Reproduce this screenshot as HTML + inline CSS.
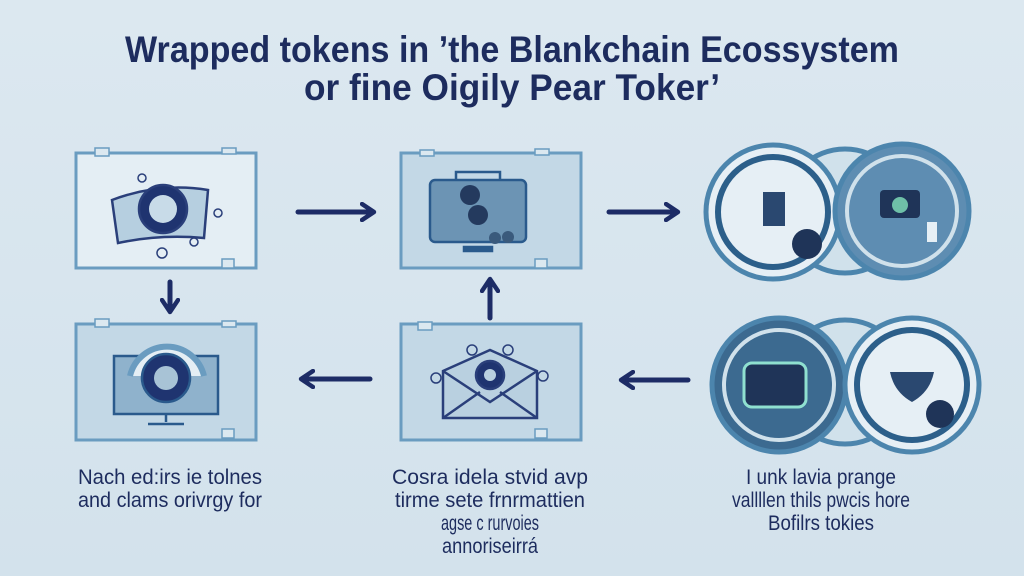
<!DOCTYPE html>
<html><head><meta charset="utf-8"><style>
html,body{margin:0;padding:0;background:#d7e5ef;}
svg{display:block}
text{font-family:"Liberation Sans",sans-serif;fill:#1d2c5e}
</style></head><body>
<svg width="1024" height="576" viewBox="0 0 1024 576" xmlns="http://www.w3.org/2000/svg">
<defs>
<linearGradient id="bg" x1="0" y1="0" x2="0" y2="1"><stop offset="0" stop-color="#dce8f0"/><stop offset="1" stop-color="#d3e2ec"/></linearGradient>
<marker id="ah" viewBox="0 0 10 10" refX="6" refY="5" markerWidth="4" markerHeight="4" orient="auto"><path d="M1 1 L7 5 L1 9" fill="none" stroke="#1d2c66" stroke-width="2.2" stroke-linecap="round" stroke-linejoin="round"/></marker>
</defs>
<rect width="1024" height="576" fill="url(#bg)"/>
<text x="512" y="62" font-size="37" font-weight="bold" text-anchor="middle" textLength="774" lengthAdjust="spacingAndGlyphs">Wrapped tokens in ’the Blankchain Ecossystem</text>
<text x="512" y="100" font-size="37" font-weight="bold" text-anchor="middle" textLength="416" lengthAdjust="spacingAndGlyphs">or fine Oigily Pear Toker’</text>

<g stroke="#6a9cc0" stroke-width="3" fill="#e4eef4">
<rect x="76" y="153" width="180" height="115"/>
<rect x="401" y="153" width="180" height="115" fill="#c3d8e6"/>
<rect x="76" y="324" width="180" height="116" fill="#c3d8e6"/>
<rect x="401" y="324" width="180" height="116" fill="#c3d8e6"/>
</g>
<g fill="#dbe8f0" stroke="#6a9cc0" stroke-width="1.5">
<rect x="95" y="148" width="14" height="8"/><rect x="222" y="148" width="14" height="6"/>
<rect x="95" y="319" width="14" height="8"/><rect x="222" y="321" width="14" height="6"/>
<rect x="420" y="150" width="14" height="6"/><rect x="535" y="149" width="14" height="6"/>
<rect x="418" y="322" width="14" height="8"/>
<rect x="222" y="259" width="12" height="9"/><rect x="222" y="429" width="12" height="9"/>
<rect x="535" y="259" width="12" height="9"/><rect x="535" y="429" width="12" height="9"/>
</g>
<g stroke="#2a3f7a" stroke-width="2.5" fill="#b6cfe0">
<path d="M112 200 Q160 182 208 190 L204 238 Q160 234 118 243 Z"/>
<circle cx="163" cy="209" r="24" fill="#1f3470"/>
<circle cx="163" cy="209" r="14" fill="#c8dbe8" stroke="none"/>
<circle cx="142" cy="178" r="4" fill="none" stroke-width="1.5"/><circle cx="162" cy="253" r="5" fill="none" stroke-width="1.5"/><circle cx="218" cy="213" r="4" fill="none" stroke-width="1.5"/><circle cx="194" cy="242" r="4" fill="none" stroke-width="1.5"/>
</g>
<g stroke="#2a5a8c" stroke-width="2.5">
<rect x="430" y="180" width="96" height="62" rx="5" fill="#6c94b4"/>
<path d="M456 180 V172 H500 V180" fill="none"/>
<rect x="464" y="247" width="28" height="4" fill="#2a5a8c"/>
<circle cx="470" cy="195" r="10" fill="#243a5e" stroke="none"/><circle cx="478" cy="215" r="10" fill="#243a5e" stroke="none"/>
<circle cx="495" cy="238" r="6" fill="#3a5a7c" stroke="none"/><circle cx="508" cy="237" r="6" fill="#3a5a7c" stroke="none"/>
</g>
<g stroke="#2a5a8c" stroke-width="2.5">
<rect x="114" y="356" width="104" height="58" fill="#8fb2cc"/>
<path d="M130 376 A38 38 0 0 1 204 376" fill="#e4eef4" stroke="#6a9cc0" stroke-width="6"/>
<circle cx="166" cy="378" r="24" fill="#1f3470"/>
<circle cx="166" cy="378" r="12" fill="#a8c3d6" stroke="none"/>
<path d="M166 414 V422 M148 424 H184" fill="none"/>
</g>
<g stroke="#2a3f7a" stroke-width="2.5" fill="#b9d0e0">
<path d="M443 371 L490 350 L537 371 V418 H443 Z"/>
<path d="M443 371 L490 402 L537 371 M443 418 L480 392 M537 418 L500 392" fill="none"/>
<circle cx="490" cy="375" r="14" fill="#1f3470"/>
<circle cx="490" cy="375" r="6" fill="#b9d0e0" stroke="none"/>
<circle cx="472" cy="350" r="5" fill="none" stroke-width="1.5"/><circle cx="508" cy="350" r="5" fill="none" stroke-width="1.5"/><circle cx="436" cy="378" r="5" fill="none" stroke-width="1.5"/><circle cx="543" cy="376" r="5" fill="none" stroke-width="1.5"/>
</g>
<g stroke="#1d2c66" stroke-width="5" stroke-linecap="round" fill="none" marker-end="url(#ah)">
<path d="M298 212 H372"/><path d="M609 212 H676"/>
<path d="M170 282 V310"/><path d="M490 318 V281"/>
<path d="M370 379 H303"/><path d="M688 380 H623"/>
</g>
<g stroke="#4c85ad" stroke-width="5">
<circle cx="845" cy="211" r="62" fill="#d0e1eb"/>
<circle cx="773" cy="212" r="67" fill="#e6eff5"/>
<circle cx="773" cy="212" r="55" fill="none" stroke="#2c5f8a" stroke-width="6"/>
<circle cx="902" cy="211" r="67" fill="#5e8db2"/>
<circle cx="902" cy="211" r="55" fill="none" stroke="#d0e1eb" stroke-width="4"/>
<rect x="763" y="192" width="22" height="34" fill="#2a4870" stroke="none"/>
<circle cx="807" cy="244" r="15" fill="#1f3458" stroke="none"/>
<rect x="880" y="190" width="40" height="28" rx="4" fill="#1f3458" stroke="none"/>
<circle cx="900" cy="205" r="8" fill="#6fc0a8" stroke="none"/>
<rect x="927" y="222" width="10" height="20" fill="#e6eff5" stroke="none"/>
<circle cx="845" cy="382" r="62" fill="#d0e1eb"/>
<circle cx="779" cy="385" r="67" fill="#3c6a90"/>
<circle cx="779" cy="385" r="55" fill="none" stroke="#d0e1eb" stroke-width="4"/>
<rect x="744" y="363" width="62" height="44" rx="8" fill="#1f3458" stroke="#8fe0d0" stroke-width="3"/>
<circle cx="912" cy="385" r="67" fill="#e6eff5"/>
<circle cx="912" cy="385" r="55" fill="none" stroke="#2c5f8a" stroke-width="6"/>
<path d="M890 372 H934 Q930 392 912 402 Q894 392 890 372 Z" fill="#2a4870" stroke="none"/>
<circle cx="940" cy="414" r="14" fill="#1f3458" stroke="none"/>
</g>
<g font-size="21" text-anchor="middle">
<text x="170" y="484" textLength="184" lengthAdjust="spacingAndGlyphs">Nach ed:irs ie tolnes</text>
<text x="170" y="507" textLength="184" lengthAdjust="spacingAndGlyphs">and clams orivrgy for</text>
<text x="490" y="484" textLength="196" lengthAdjust="spacingAndGlyphs">Cosra idela stvid avp</text>
<text x="490" y="507" textLength="190" lengthAdjust="spacingAndGlyphs">tirme sete frnrmattien</text>
<text x="490" y="530" textLength="98" lengthAdjust="spacingAndGlyphs">agse c rurvoies</text>
<text x="490" y="553" textLength="96" lengthAdjust="spacingAndGlyphs">annoriseirrá</text>
<text x="821" y="484" textLength="150" lengthAdjust="spacingAndGlyphs">I unk lavia prange</text>
<text x="821" y="507" textLength="178" lengthAdjust="spacingAndGlyphs">vallllen thils pwcis hore</text>
<text x="821" y="530" textLength="106" lengthAdjust="spacingAndGlyphs">Bofilrs tokies</text>
</g>
</svg>
</body></html>
